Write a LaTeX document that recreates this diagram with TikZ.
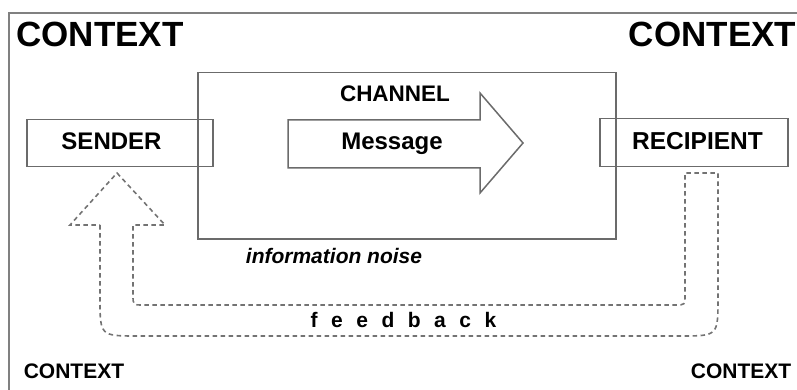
\documentclass[tikz,border=0pt]{standalone}
\usepackage{fontspec}
\setmainfont{Liberation Sans}
\begin{document}
\begin{tikzpicture}[x=1pt,y=-1pt,
  frameline/.style={draw=black!50,line width=1.6pt},
  boxline/.style={draw=black!58,line width=1.5pt},
  fbline/.style={draw=black!55,line width=1.6pt,dash pattern=on 4.5pt off 3.5pt},
  txt/.style={inner sep=0pt,anchor=base,text=black,font=\bfseries}]
\useasboundingbox (0,0) rectangle (797,390);
\begin{scope}
\clip (0,0) rectangle (797,390);
\draw[frameline] (9,400) -- (9,13) -- (810,13);
\end{scope}
% nodes
\node[boxline,minimum width=418pt,minimum height=166pt,anchor=north west] (channel) at (197,72) {};
\node[boxline,minimum width=186pt,minimum height=47pt,anchor=north west] (sender) at (26,119) {};
\node[boxline,minimum width=188pt,minimum height=48pt,anchor=north west] (recipient) at (599,118) {};
% message arrow
\draw[boxline] (288,120) -- (480,120) -- (480,93) -- (523,143) -- (480,193) -- (480,168) -- (288,168) -- cycle;
% texts
\node[txt,font=\bfseries\fontsize{35}{35}\selectfont] (ctl) at (100,47) {CONTEXT};
\node[txt,font=\bfseries\fontsize{35}{35}\selectfont] (ctr) at (712.5,47) {CONTEXT};
\node[txt,font=\bfseries\fontsize{21}{21}\selectfont] (cbl) at (74,378) {CONTEXT};
\node[txt,font=\bfseries\fontsize{21}{21}\selectfont] (cbr) at (741,378) {CONTEXT};
\node[txt,font=\bfseries\fontsize{22.5}{22.5}\selectfont] (chtxt) at (395,102) {CHANNEL};
\node[txt,font=\bfseries\fontsize{24}{24}\selectfont] (msg) at (392,150) {Message};
\node[txt,font=\bfseries\fontsize{24}{24}\selectfont] (sendtxt) at (111.5,150) {SENDER};
\node[txt,font=\bfseries\fontsize{24.5}{24.5}\selectfont] (rectxt) at (697.5,150) {RECIPIENT};
\node[txt,font=\bfseries\itshape\fontsize{21}{21}\selectfont] (noise) at (334,263) {information noise};
\node[txt,font=\bfseries\fontsize{21}{21}\selectfont] (fb) at (403.5,327)
  {f\hspace{13.5pt}e\hspace{13.5pt}e\hspace{13.5pt}d\hspace{13.5pt}b\hspace{13.5pt}a\hspace{13.5pt}c\hspace{13.5pt}k};
% feedback arrow
\draw[fbline] (100,225) -- (100,298) .. controls (100,336) .. (138,336)
  -- (680,336) .. controls (718,336) .. (718,298) -- (718,173) -- (685,173)
  -- (685,295) .. controls (685,305) .. (675,305) -- (143,305)
  .. controls (133,305) .. (133,295) -- (133,225) -- (165,225) -- (117,173)
  -- (70,225) -- cycle;
\end{tikzpicture}
\end{document}
